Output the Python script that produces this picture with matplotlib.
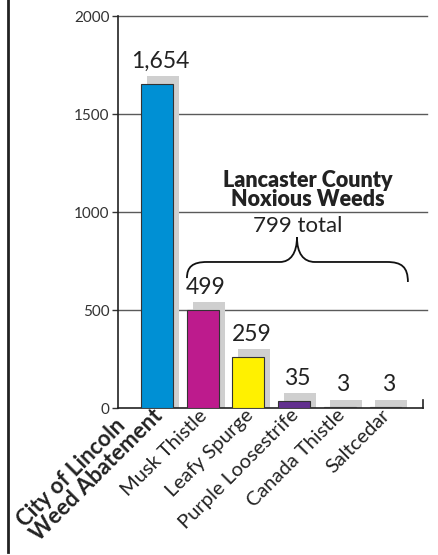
import matplotlib.pyplot as plt
from matplotlib.path import Path
from matplotlib.patches import PathPatch
from matplotlib.lines import Line2D
from matplotlib.transforms import ScaledTranslation

plt.rcParams['font.family'] = ['Lato', 'DejaVu Sans']

# data
categories = ["City of Lincoln\nWeed Abatement", "Musk Thistle", "Leafy Spurge",
              "Purple Loosestrife", "Canada Thistle", "Saltcedar"]
values = [1654, 499, 259, 35, 3, 3]
value_labels = ["1,654", "499", "259", "35", "3", "3"]
bar_colors = ["#0090d4", "#bd1b8d", "#fff100", "#62308f", "#62308f", "#62308f"]
y_ticks = [0, 500, 1000, 1500, 2000]
group_title = ["Lancaster County", "Noxious Weeds"]
group_total = "799 total"

SHADOW_COLOR = "#cfcfcf"
GRID_COLOR = "#5a5a5a"
TEXT_COLOR = "#222222"
SHADOW_DX = 0.13   # shadow offset to the right, in bar units
SHADOW_DY = 40     # shadow sticks out above the bar, in value units
BAR_W = 0.70

fig = plt.figure(figsize=(4.38, 5.55), dpi=100)
ax = fig.add_axes([118 / 438, 147 / 555, 309 / 438, 392 / 555])

xs = list(range(len(values)))

# grey drop shadows behind the bars
ax.bar([x + SHADOW_DX for x in xs], [v + SHADOW_DY for v in values], width=BAR_W,
       color=SHADOW_COLOR, zorder=2)
ax.bar(xs, values, width=BAR_W, color=bar_colors, edgecolor="#333333",
       linewidth=0.8, zorder=3)

# value labels above each bar
for x, v, lab in zip(xs, values, value_labels):
    ax.annotate(lab, (x + SHADOW_DX / 2, v + SHADOW_DY), xytext=(0, 6),
                textcoords="offset points", ha="center", va="baseline",
                fontsize=16.5, color=TEXT_COLOR, zorder=5)

# horizontal gridlines
for t in y_ticks[1:]:
    ax.axhline(t, color=GRID_COLOR, linewidth=1.0, zorder=1, clip_on=False)

ax.set_xlim(-0.853, 5.908)
ax.set_ylim(0, 2000)
ax.set_yticks(y_ticks)
ax.set_yticklabels([str(t) for t in y_ticks], fontsize=11, color="#333333")
ax.tick_params(axis="y", direction="out", length=4, width=1, color="#333333", pad=2)

ax.set_xticks(xs)
ax.set_xticklabels(categories, rotation=45, ha="right", va="top",
                   rotation_mode="anchor", fontsize=14.5, color=TEXT_COLOR,
                   multialignment="left")
ax.tick_params(axis="x", length=0, pad=4)
for i, lab in enumerate(ax.get_xticklabels()):
    dx, dy = -4, 7
    if i == 0:
        lab.set_fontweight("bold")
        lab.set_fontsize(16)
        lab.set_linespacing(0.92)
        dx, dy = -19, 22
    lab.set_transform(lab.get_transform() +
                      ScaledTranslation(dx / 100, dy / 100, fig.dpi_scale_trans))

for side in ["top", "right"]:
    ax.spines[side].set_visible(False)
ax.spines["left"].set_color("#222222")
ax.spines["left"].set_linewidth(1.2)
ax.spines["bottom"].set_color("#222222")
ax.spines["bottom"].set_linewidth(1.2)
x_end = 5.82
ax.spines["bottom"].set_bounds(-0.853, x_end)
ax.plot([x_end, x_end], [0, 42], color="#222222", linewidth=1.2,
        clip_on=False, zorder=4)

# curly brace over the noxious weeds group
tip_x, tip_y = 3.063, 872
flat_y = 745
verts = [
    (0.656, 663),
    (0.656, 720), (0.78, flat_y), (1.094, flat_y),
    (2.69, flat_y),
    (2.92, flat_y), (tip_x, 790), (tip_x, tip_y),
    (tip_x, 790), (3.2, flat_y), (3.457, flat_y),
    (5.03, flat_y),
    (5.35, flat_y), (5.49, 720), (5.49, 643),
]
codes = [Path.MOVETO,
         Path.CURVE4, Path.CURVE4, Path.CURVE4,
         Path.LINETO,
         Path.CURVE4, Path.CURVE4, Path.CURVE4,
         Path.CURVE4, Path.CURVE4, Path.CURVE4,
         Path.LINETO,
         Path.CURVE4, Path.CURVE4, Path.CURVE4]
ax.add_patch(PathPatch(Path(verts, codes), facecolor="none", edgecolor="#111111",
                       linewidth=1.3, clip_on=False, zorder=4))

ax.text(3.30, 1128, group_title[0], ha="center", va="baseline", fontsize=15.5,
        fontweight="heavy", color=TEXT_COLOR, zorder=5)
ax.text(3.30, 1031, group_title[1], ha="center", va="baseline", fontsize=15.5,
        fontweight="heavy", color=TEXT_COLOR, zorder=5)
ax.text(3.085, 898, group_total, ha="center", va="baseline", fontsize=16,
        color=TEXT_COLOR, zorder=5)

# thick rule down the left edge of the graphic
fig.add_artist(Line2D([8 / 438, 8 / 438], [3 / 555, 1], color="#222222", linewidth=2.0))

fig.savefig("out.png", dpi=100)
